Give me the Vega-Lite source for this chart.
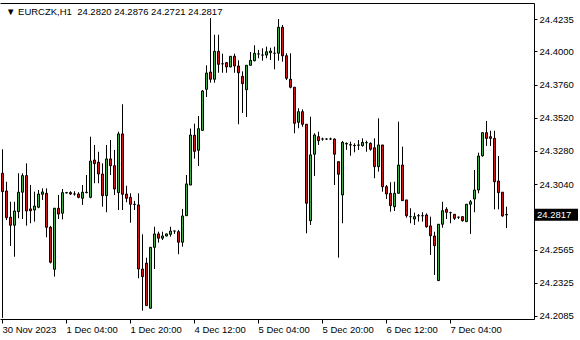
{
  "$schema": "https://vega.github.io/schema/vega-lite/v6.json",
  "width": 534,
  "height": 316,
  "autosize": "none",
  "padding": {"left": 0, "top": 3, "right": 46, "bottom": 21},
  "background": "white",
  "config": {
    "view": {"stroke": null},
    "axis": {"labelFont": "Liberation Sans", "labelFontSize": 9.5, "labelColor": "#000", "domainColor": "#000", "tickColor": "#000", "grid": false, "title": null}
  },
  "title": {"text": "▼ EURCZK,H1\u00a0 24.2820 24.2876 24.2721 24.2817", "anchor": "start", "frame": "group", "orient": "top", "offset": -18, "baseline": "middle", "dx": 6, "font": "Liberation Sans", "fontSize": 9.5, "fontWeight": "normal", "color": "#000"},
  "data": {"values": [
    {"i":0,"o":24.3118,"h":24.3292,"l":24.2071,"c":24.2985},
    {"i":1,"o":24.2990,"h":24.3057,"l":24.2780,"c":24.2797},
    {"i":2,"o":24.2800,"h":24.2912,"l":24.2592,"c":24.2742},
    {"i":3,"o":24.2742,"h":24.2912,"l":24.2514,"c":24.2845},
    {"i":4,"o":24.2840,"h":24.3118,"l":24.2792,"c":24.2981},
    {"i":5,"o":24.2981,"h":24.3118,"l":24.2787,"c":24.3101},
    {"i":6,"o":24.3101,"h":24.3190,"l":24.2739,"c":24.2845},
    {"i":7,"o":24.2860,"h":24.3033,"l":24.2756,"c":24.2847},
    {"i":8,"o":24.2852,"h":24.2985,"l":24.2768,"c":24.2881},
    {"i":9,"o":24.2872,"h":24.2997,"l":24.2865,"c":24.2968},
    {"i":10,"o":24.2966,"h":24.3009,"l":24.2925,"c":24.2983},
    {"i":11,"o":24.2973,"h":24.3009,"l":24.2655,"c":24.2727},
    {"i":12,"o":24.2727,"h":24.2737,"l":24.2465,"c":24.2474},
    {"i":13,"o":24.2423,"h":24.2867,"l":24.2370,"c":24.2865},
    {"i":14,"o":24.2865,"h":24.2961,"l":24.2787,"c":24.2823},
    {"i":15,"o":24.2829,"h":24.3004,"l":24.2784,"c":24.2978},
    {"i":16,"o":24.2978,"h":24.2983,"l":24.2972,"c":24.2976},
    {"i":17,"o":24.2978,"h":24.2988,"l":24.2961,"c":24.2968},
    {"i":18,"o":24.2968,"h":24.2988,"l":24.2956,"c":24.2968},
    {"i":19,"o":24.2968,"h":24.2981,"l":24.2937,"c":24.2944},
    {"i":20,"o":24.2937,"h":24.3033,"l":24.2889,"c":24.2981},
    {"i":21,"o":24.2981,"h":24.3106,"l":24.2973,"c":24.2978},
    {"i":22,"o":24.2944,"h":24.3383,"l":24.2937,"c":24.3207},
    {"i":23,"o":24.3214,"h":24.3323,"l":24.3046,"c":24.3188},
    {"i":24,"o":24.3198,"h":24.3274,"l":24.3046,"c":24.3113},
    {"i":25,"o":24.3113,"h":24.3190,"l":24.2876,"c":24.2956},
    {"i":26,"o":24.2956,"h":24.3323,"l":24.2836,"c":24.3222},
    {"i":27,"o":24.3222,"h":24.3359,"l":24.3106,"c":24.3173},
    {"i":28,"o":24.3173,"h":24.3287,"l":24.2961,"c":24.3004},
    {"i":29,"o":24.2978,"h":24.3419,"l":24.2852,"c":24.3403},
    {"i":30,"o":24.3403,"h":24.3618,"l":24.2852,"c":24.2966},
    {"i":31,"o":24.2968,"h":24.3028,"l":24.2908,"c":24.2937},
    {"i":32,"o":24.2944,"h":24.2973,"l":24.2760,"c":24.2894},
    {"i":33,"o":24.2894,"h":24.2918,"l":24.2852,"c":24.2892},
    {"i":34,"o":24.2889,"h":24.2973,"l":24.2358,"c":24.2425},
    {"i":35,"o":24.2425,"h":24.2676,"l":24.2123,"c":24.2370},
    {"i":36,"o":24.2467,"h":24.2507,"l":24.2157,"c":24.2160},
    {"i":37,"o":24.2141,"h":24.2584,"l":24.2139,"c":24.2582},
    {"i":38,"o":24.2582,"h":24.2731,"l":24.2425,"c":24.2679},
    {"i":39,"o":24.2679,"h":24.2695,"l":24.2616,"c":24.2648},
    {"i":40,"o":24.2648,"h":24.2695,"l":24.2635,"c":24.2664},
    {"i":41,"o":24.2664,"h":24.2682,"l":24.2661,"c":24.2679},
    {"i":42,"o":24.2676,"h":24.2731,"l":24.2659,"c":24.2700},
    {"i":43,"o":24.2700,"h":24.2700,"l":24.2679,"c":24.2700},
    {"i":44,"o":24.2695,"h":24.2708,"l":24.2532,"c":24.2619},
    {"i":45,"o":24.2619,"h":24.2860,"l":24.2587,"c":24.2809},
    {"i":46,"o":24.2811,"h":24.3106,"l":24.2809,"c":24.3041},
    {"i":47,"o":24.3033,"h":24.3442,"l":24.3033,"c":24.3395},
    {"i":48,"o":24.3393,"h":24.3477,"l":24.3224,"c":24.3277},
    {"i":49,"o":24.3285,"h":24.3533,"l":24.3171,"c":24.3441},
    {"i":50,"o":24.3429,"h":24.3721,"l":24.3424,"c":24.3714},
    {"i":51,"o":24.3726,"h":24.3900,"l":24.3670,"c":24.3844},
    {"i":52,"o":24.3851,"h":24.4242,"l":24.3774,"c":24.3799},
    {"i":53,"o":24.3799,"h":24.4121,"l":24.3774,"c":24.4001},
    {"i":54,"o":24.4001,"h":24.4121,"l":24.3846,"c":24.3907},
    {"i":55,"o":24.3911,"h":24.3984,"l":24.3846,"c":24.3911},
    {"i":56,"o":24.3919,"h":24.3924,"l":24.3846,"c":24.3888},
    {"i":57,"o":24.3888,"h":24.3967,"l":24.3886,"c":24.3965},
    {"i":58,"o":24.3965,"h":24.3984,"l":24.3846,"c":24.3895},
    {"i":59,"o":24.3895,"h":24.3936,"l":24.3473,"c":24.3846},
    {"i":60,"o":24.3820,"h":24.3856,"l":24.3555,"c":24.3767},
    {"i":61,"o":24.3723,"h":24.3900,"l":24.3526,"c":24.3900},
    {"i":62,"o":24.3900,"h":24.3996,"l":24.3900,"c":24.3936},
    {"i":63,"o":24.3933,"h":24.4045,"l":24.3929,"c":24.3987},
    {"i":64,"o":24.3982,"h":24.4011,"l":24.3951,"c":24.3982},
    {"i":65,"o":24.3974,"h":24.4023,"l":24.3933,"c":24.3974},
    {"i":66,"o":24.3974,"h":24.4035,"l":24.3951,"c":24.3998},
    {"i":67,"o":24.3991,"h":24.4027,"l":24.3938,"c":24.4003},
    {"i":68,"o":24.3987,"h":24.4035,"l":24.3871,"c":24.3987},
    {"i":69,"o":24.3987,"h":24.4235,"l":24.3933,"c":24.4175},
    {"i":70,"o":24.4175,"h":24.4192,"l":24.3926,"c":24.3969},
    {"i":71,"o":24.3969,"h":24.3987,"l":24.3793,"c":24.3806},
    {"i":72,"o":24.3799,"h":24.3987,"l":24.3733,"c":24.3741},
    {"i":73,"o":24.3741,"h":24.3741,"l":24.3408,"c":24.3480},
    {"i":74,"o":24.3487,"h":24.3589,"l":24.3444,"c":24.3564},
    {"i":75,"o":24.3564,"h":24.3581,"l":24.3455,"c":24.3473},
    {"i":76,"o":24.3473,"h":24.3473,"l":24.2684,"c":24.2901},
    {"i":77,"o":24.2775,"h":24.3528,"l":24.2744,"c":24.3251},
    {"i":78,"o":24.3256,"h":24.3408,"l":24.3099,"c":24.3395},
    {"i":79,"o":24.3383,"h":24.3419,"l":24.3323,"c":24.3354},
    {"i":80,"o":24.3366,"h":24.3376,"l":24.3354,"c":24.3366},
    {"i":81,"o":24.3366,"h":24.3371,"l":24.3359,"c":24.3366},
    {"i":82,"o":24.3366,"h":24.3376,"l":24.3359,"c":24.3366},
    {"i":83,"o":24.3366,"h":24.3371,"l":24.3033,"c":24.3256},
    {"i":84,"o":24.3202,"h":24.3202,"l":24.2507,"c":24.3111},
    {"i":85,"o":24.2961,"h":24.3352,"l":24.2756,"c":24.3342},
    {"i":86,"o":24.3334,"h":24.3342,"l":24.3287,"c":24.3330},
    {"i":87,"o":24.3325,"h":24.3347,"l":24.3245,"c":24.3323},
    {"i":88,"o":24.3320,"h":24.3335,"l":24.3270,"c":24.3318},
    {"i":89,"o":24.3321,"h":24.3359,"l":24.3287,"c":24.3323},
    {"i":90,"o":24.3318,"h":24.3371,"l":24.3311,"c":24.3342},
    {"i":91,"o":24.3340,"h":24.3354,"l":24.3274,"c":24.3339},
    {"i":92,"o":24.3335,"h":24.3342,"l":24.3282,"c":24.3292},
    {"i":93,"o":24.3303,"h":24.3371,"l":24.3082,"c":24.3166},
    {"i":94,"o":24.3166,"h":24.3516,"l":24.3130,"c":24.3323},
    {"i":95,"o":24.3323,"h":24.3323,"l":24.2985,"c":24.3021},
    {"i":96,"o":24.3021,"h":24.3033,"l":24.2932,"c":24.2968},
    {"i":97,"o":24.2973,"h":24.3053,"l":24.2840,"c":24.2884},
    {"i":98,"o":24.2876,"h":24.3057,"l":24.2845,"c":24.2973},
    {"i":99,"o":24.2973,"h":24.3492,"l":24.2973,"c":24.3178},
    {"i":100,"o":24.3178,"h":24.3311,"l":24.2920,"c":24.2920},
    {"i":101,"o":24.2925,"h":24.2925,"l":24.2797,"c":24.2811},
    {"i":102,"o":24.2804,"h":24.2865,"l":24.2756,"c":24.2804},
    {"i":103,"o":24.2787,"h":24.2833,"l":24.2744,"c":24.2804},
    {"i":104,"o":24.2811,"h":24.2823,"l":24.2768,"c":24.2811},
    {"i":105,"o":24.2811,"h":24.2836,"l":24.2768,"c":24.2811},
    {"i":106,"o":24.2816,"h":24.2828,"l":24.2724,"c":24.2731},
    {"i":107,"o":24.2737,"h":24.2804,"l":24.2527,"c":24.2666},
    {"i":108,"o":24.2664,"h":24.2695,"l":24.2382,"c":24.2594},
    {"i":109,"o":24.2341,"h":24.2749,"l":24.2341,"c":24.2749},
    {"i":110,"o":24.2749,"h":24.2912,"l":24.2724,"c":24.2847},
    {"i":111,"o":24.2857,"h":24.2872,"l":24.2787,"c":24.2836},
    {"i":112,"o":24.2833,"h":24.2840,"l":24.2756,"c":24.2833},
    {"i":113,"o":24.2821,"h":24.2821,"l":24.2780,"c":24.2792},
    {"i":114,"o":24.2800,"h":24.2804,"l":24.2787,"c":24.2800},
    {"i":115,"o":24.2804,"h":24.2805,"l":24.2768,"c":24.2775},
    {"i":116,"o":24.2768,"h":24.2894,"l":24.2768,"c":24.2894},
    {"i":117,"o":24.2894,"h":24.2925,"l":24.2679,"c":24.2912},
    {"i":118,"o":24.2932,"h":24.3142,"l":24.2836,"c":24.2997},
    {"i":119,"o":24.2997,"h":24.3267,"l":24.2973,"c":24.3243},
    {"i":120,"o":24.3245,"h":24.3412,"l":24.3238,"c":24.3412},
    {"i":121,"o":24.3412,"h":24.3497,"l":24.3316,"c":24.3371},
    {"i":122,"o":24.3383,"h":24.3426,"l":24.3316,"c":24.3371},
    {"i":123,"o":24.3371,"h":24.3426,"l":24.2857,"c":24.3057},
    {"i":124,"o":24.3062,"h":24.3243,"l":24.2857,"c":24.2978},
    {"i":125,"o":24.2981,"h":24.2981,"l":24.2804,"c":24.2809},
    {"i":126,"o":24.2820,"h":24.2876,"l":24.2721,"c":24.2817}
  ]},
  "resolve": {"axis": {"x": "independent"}},
  "layer": [
    {
      "mark": {"type": "rule", "color": "#000", "strokeWidth": 1, "xOffset": 0.5},
      "encoding": {
        "x": {"field": "i", "type": "quantitative", "scale": {"domain": [-0.5, 133], "nice": false, "zero": false, "padding": 0},
              "axis": {"orient": "bottom", "values": [0, 16, 32, 48, 64, 80, 96, 112], "tickSize": 4, "labelPadding": 1, "labelAlign": "left", "labelBaseline": "top", "labelFlush": false, "labelOverlap": false,
                       "labelExpr": "['30 Nov 2023','1 Dec 04:00','1 Dec 20:00','4 Dec 12:00','5 Dec 04:00','5 Dec 20:00','6 Dec 12:00','7 Dec 04:00'][round(datum.value/16)]"}},
        "y": {"field": "l", "type": "quantitative", "scale": {"domain": [24.2063, 24.4351], "nice": false, "zero": false, "padding": 0},
              "axis": {"orient": "right", "values": [24.4235, 24.4, 24.376, 24.352, 24.328, 24.304, 24.2565, 24.2325, 24.2085], "format": ".4f", "tickSize": 3, "labelPadding": 2, "labelFlush": false, "labelOverlap": false}},
        "y2": {"field": "h"}
      }
    },
    {
      "mark": {"type": "bar", "orient": "vertical", "size": 2, "stroke": "#000", "strokeWidth": 1, "xOffset": 0.5},
      "encoding": {
        "x": {"field": "i", "type": "quantitative", "axis": {"orient": "top", "labels": false, "ticks": false, "domain": true}},
        "y": {"field": "o", "type": "quantitative",
              "axis": {"orient": "right", "values": [24.4235, 24.4, 24.376, 24.352, 24.328, 24.304, 24.2565, 24.2325, 24.2085], "format": ".4f", "tickSize": 3, "labelPadding": 2, "labelFlush": false, "labelOverlap": false}},
        "y2": {"field": "c"},
        "fill": {"condition": {"test": "datum.c >= datum.o", "value": "#3fae45"}, "value": "#d11414"}
      }
    },
    {
      "transform": [{"filter": "datum.i == 126"}],
      "mark": {"type": "rule", "color": "#000", "strokeWidth": 12, "x": "width", "x2": {"expr": "width + 44"}},
      "encoding": {
        "y": {"field": "c", "type": "quantitative",
              "axis": {"orient": "right", "values": [24.4235, 24.4, 24.376, 24.352, 24.328, 24.304, 24.2565, 24.2325, 24.2085], "format": ".4f", "tickSize": 3, "labelPadding": 2, "labelFlush": false, "labelOverlap": false}}
      }
    },
    {
      "transform": [{"filter": "datum.i == 126"}],
      "mark": {"type": "text", "color": "#fff", "align": "left", "baseline": "middle", "font": "Liberation Sans", "fontSize": 9.5, "x": {"expr": "width + 3"}},
      "encoding": {
        "y": {"field": "c", "type": "quantitative",
              "axis": {"orient": "right", "values": [24.4235, 24.4, 24.376, 24.352, 24.328, 24.304, 24.2565, 24.2325, 24.2085], "format": ".4f", "tickSize": 3, "labelPadding": 2, "labelFlush": false, "labelOverlap": false}},
        "text": {"field": "c", "type": "quantitative", "format": ".4f"}
      }
    }
  ]
}
